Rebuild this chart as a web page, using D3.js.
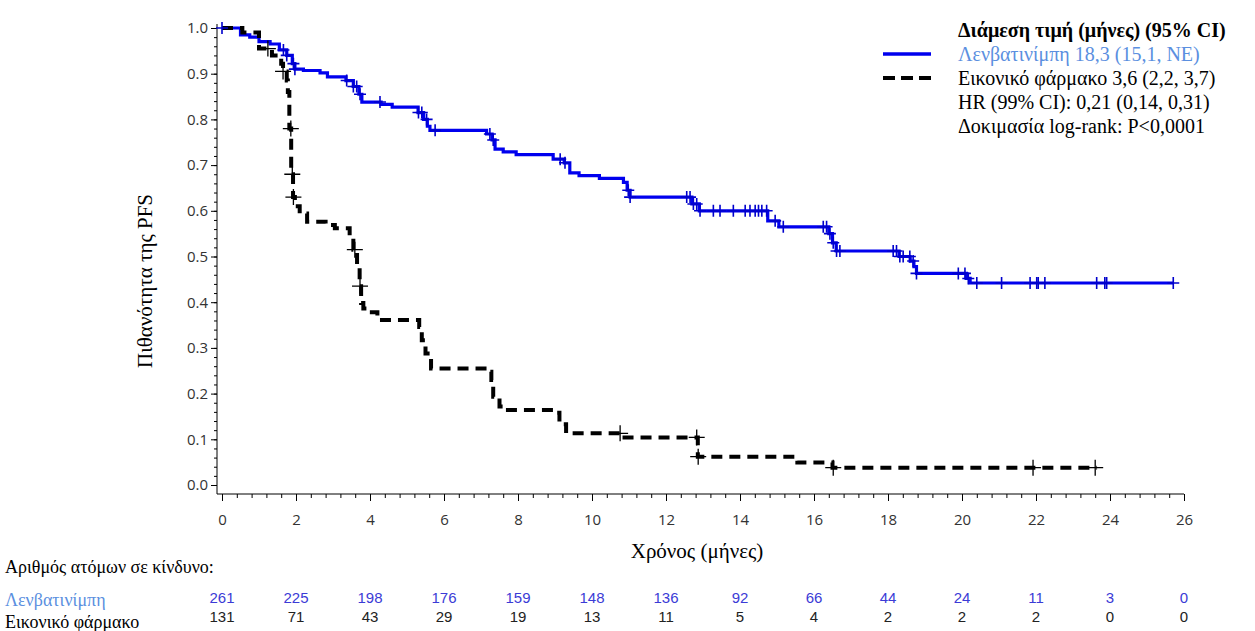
<!DOCTYPE html>
<html>
<head>
<meta charset="utf-8">
<script src="https://cdn.jsdelivr.net/npm/d3@7"></script>
<style>
body { margin: 0; background: #fff; }
svg { display: block; }
</style>
</head>
<body>
<script>
// survival steps: [month, probability after the step]
var lenvSteps = [[0,1.0],[0.5,0.985],[0.75,0.98],[1.0,0.97],[1.3,0.965],[1.55,0.952],[1.75,0.94],
	[1.9,0.922],[1.97,0.91],[2.2,0.907],[2.65,0.902],[2.85,0.893],[3.35,0.885],[3.55,0.872],
	[3.7,0.855],[3.78,0.838],[4.3,0.833],[4.6,0.827],[5.3,0.815],[5.45,0.8],[5.55,0.785],
	[5.62,0.776],[7.15,0.768],[7.3,0.755],[7.38,0.735],[7.6,0.729],[7.95,0.723],[8.95,0.713],
	[9.25,0.705],[9.4,0.683],[9.65,0.677],[10.2,0.671],[10.85,0.662],[10.95,0.645],[11.03,0.63],
	[12.7,0.615],[12.9,0.6],[14.75,0.578],[15.05,0.565],[16.4,0.55],[16.5,0.53],[16.6,0.512],
	[18.3,0.5],[18.6,0.49],[18.7,0.478],[18.77,0.463],[20.12,0.452],[20.22,0.442]];
var lenvEnd = 25.71;
var lenvCensor = [0,1.66,1.75,1.93,1.97,3.37,3.55,3.64,3.73,4.27,5.31,5.4,5.53,5.76,7.24,7.33,
	9.14,9.27,10.98,11.03,12.56,12.65,12.74,12.83,12.92,13.28,13.46,13.82,14.14,14.27,14.41,14.5,
	14.59,14.72,14.95,15.17,16.25,16.34,16.43,16.52,16.61,16.7,18.14,18.23,18.32,18.41,18.59,18.68,
	18.77,19.9,20.08,20.17,20.4,21.07,21.84,22.02,22.06,22.24,23.64,23.86,23.91,25.71];

var placSteps = [[0,1.0],[0.55,0.99],[1.0,0.955],[1.35,0.94],[1.6,0.922],[1.65,0.905],[1.75,0.885],
	[1.78,0.86],[1.82,0.78],[1.87,0.68],[1.92,0.63],[1.97,0.61],[2.1,0.594],[2.3,0.576],[2.8,0.569],
	[3.05,0.562],[3.45,0.545],[3.55,0.515],[3.65,0.48],[3.72,0.435],[3.76,0.398],[3.82,0.386],
	[4.05,0.378],[4.2,0.361],[5.33,0.346],[5.4,0.317],[5.5,0.288],[5.65,0.255],[7.15,0.248],
	[7.28,0.23],[7.33,0.193],[7.5,0.172],[7.65,0.164],[9.0,0.158],[9.12,0.133],[9.3,0.113],
	[10.8,0.104],[12.86,0.062],[15.55,0.049],[16.5,0.038]];
var placEnd = 23.65;
var placCensor = [1.24,1.65,1.86,1.9,1.93,3.59,3.73,10.76,12.83,12.87,16.52,21.92,23.6];

var riskMonths = [0,2,4,6,8,10,12,14,16,18,20,22,24,26];
var lenvRisk = [261,225,198,176,159,148,136,92,66,44,24,11,3,0];
var placRisk = [131,71,43,29,19,13,11,5,4,2,2,2,0,0];

var legendTitle = "Διάμεση τιμή (μήνες) (95% CI)";
var legendRows = ["Λενβατινίμπη 18,3 (15,1, NE)", "Εικονικό φάρμακο 3,6 (2,2, 3,7)",
	"HR (99% CI): 0,21 (0,14, 0,31)", "Δοκιμασία log-rank: P<0,0001"];

function main(){

	var w = 1255;
	var h = 631;
	var serif = "'Liberation Serif', 'Times New Roman', serif";
	var sans = "'Open Sans', 'Liberation Sans', sans-serif";

	var svg = d3.select("body")
				.append("svg")
				.attr("width", w)
				.attr("height", h);

	var x = d3.scaleLinear().domain([0, 26]).range([222, 1184]);
	var y = d3.scaleLinear().domain([0, 1]).range([485, 28]);

	// axes
	var yMinor = d3.range(0, 1.001, 0.02);
	svg.append("g")
		.attr("transform", "translate(217,0)")
		.call(d3.axisLeft(y).tickValues(yMinor).tickSize(3).tickFormat(""))
		.call(function(g){ g.select(".domain").remove(); });
	svg.append("g")
		.attr("class", "yaxis")
		.attr("transform", "translate(217,0)")
		.call(d3.axisLeft(y).tickValues(d3.range(0, 11).map(function(d){ return d / 10; }))
			.tickSize(6).tickPadding(3).tickFormat(d3.format(".1f")))
		.call(function(g){ g.select(".domain").remove(); });

	var xMinor = d3.range(0, 26.01, 0.4);
	svg.append("g")
		.attr("transform", "translate(0,494)")
		.call(d3.axisBottom(x).tickValues(xMinor).tickSize(4).tickFormat(""))
		.call(function(g){ g.select(".domain").remove(); });
	svg.append("g")
		.attr("class", "xaxis")
		.attr("transform", "translate(0,494)")
		.call(d3.axisBottom(x).tickValues(riskMonths).tickSize(7).tickPadding(13))
		.call(function(g){ g.select(".domain").remove(); });

	svg.selectAll(".tick line").attr("stroke", "#000").attr("stroke-width", 1);
	svg.selectAll(".yaxis text, .xaxis text")
		.attr("font-family", sans)
		.attr("font-size", 15)
		.attr("fill", "#333");

	svg.append("line").attr("x1", 217).attr("x2", 217).attr("y1", 24).attr("y2", 494)
		.attr("stroke", "#000");
	svg.append("line").attr("x1", 217).attr("x2", 1184).attr("y1", 494).attr("y2", 494)
		.attr("stroke", "#000");

	// curves
	var line = d3.line()
				.x(function(d){ return x(d[0]); })
				.y(function(d){ return y(d[1]); })
				.curve(d3.curveStepAfter);

	function survAt(steps, t){
		var i = d3.bisector(function(d){ return d[0]; }).right(steps, t) - 1;
		return steps[Math.max(i, 0)][1];
	}

	svg.append("path")
		.datum(lenvSteps.concat([[lenvEnd, lenvSteps[lenvSteps.length - 1][1]]]))
		.attr("d", line)
		.attr("fill", "none")
		.attr("stroke", "#0000ee")
		.attr("stroke-width", 3.2);

	svg.append("path")
		.datum(placSteps.concat([[placEnd, placSteps[placSteps.length - 1][1]]]))
		.attr("d", line)
		.attr("fill", "none")
		.attr("stroke", "#000")
		.attr("stroke-width", 4)
		.attr("stroke-dasharray", "11,7");

	svg.selectAll(".lcens")
		.data(lenvCensor)
		.enter()
		.append("path")
		.attr("class", "lcens")
		.attr("d", function(t){
			var cx = x(t), cy = y(survAt(lenvSteps, t));
			return "M" + (cx - 6) + "," + cy + "h12M" + cx + "," + (cy - 6) + "v12";
		})
		.attr("stroke", "#0000cc")
		.attr("stroke-width", 1.6);

	svg.selectAll(".pcens")
		.data(placCensor)
		.enter()
		.append("path")
		.attr("class", "pcens")
		.attr("d", function(t){
			var cx = x(t), cy = y(survAt(placSteps, t));
			return "M" + (cx - 8) + "," + cy + "h16M" + cx + "," + (cy - 8) + "v16";
		})
		.attr("stroke", "#000")
		.attr("stroke-width", 1.3);

	// axis titles
	svg.append("text")
		.attr("transform", "translate(152,281) rotate(-90)")
		.attr("text-anchor", "middle")
		.attr("font-family", serif)
		.attr("font-size", 21)
		.text("Πιθανότητα της PFS");

	svg.append("text")
		.attr("x", 697)
		.attr("y", 558)
		.attr("text-anchor", "middle")
		.attr("font-family", serif)
		.attr("font-size", 21)
		.text("Χρόνος (μήνες)");

	// legend
	var lx = 958;
	svg.append("text")
		.attr("x", lx).attr("y", 37)
		.attr("font-family", serif).attr("font-size", 20).attr("font-weight", "bold")
		.text(legendTitle);
	svg.selectAll(".legrow")
		.data(legendRows)
		.enter()
		.append("text")
		.attr("class", "legrow")
		.attr("x", lx)
		.attr("y", function(d, i){ return 61 + i * 24; })
		.attr("font-family", serif)
		.attr("font-size", 20)
		.attr("fill", function(d, i){ return i === 0 ? "#5b8fe0" : "#000"; })
		.text(function(d){ return d; });
	svg.append("line").attr("x1", 883).attr("x2", 931).attr("y1", 54).attr("y2", 54)
		.attr("stroke", "#0000ee").attr("stroke-width", 3.5);
	svg.append("line").attr("x1", 883).attr("x2", 931).attr("y1", 78).attr("y2", 78)
		.attr("stroke", "#000").attr("stroke-width", 4).attr("stroke-dasharray", "12,6");

	// number at risk
	svg.append("text")
		.attr("x", 5).attr("y", 573)
		.attr("font-family", serif).attr("font-size", 18)
		.text("Αριθμός ατόμων σε κίνδυνο:");
	svg.append("text")
		.attr("x", 5).attr("y", 606)
		.attr("font-family", serif).attr("font-size", 18).attr("fill", "#5b8fe0")
		.text("Λενβατινίμπη");
	svg.append("text")
		.attr("x", 5).attr("y", 628)
		.attr("font-family", serif).attr("font-size", 18)
		.text("Εικονικό φάρμακο");

	svg.selectAll(".lrisk")
		.data(lenvRisk)
		.enter()
		.append("text")
		.attr("class", "lrisk")
		.attr("x", function(d, i){ return x(riskMonths[i]); })
		.attr("y", 603)
		.attr("text-anchor", "middle")
		.attr("font-family", "'Liberation Sans', Arial, sans-serif")
		.attr("font-size", 15)
		.attr("fill", "#3b3bd6")
		.text(function(d){ return d; });

	svg.selectAll(".prisk")
		.data(placRisk)
		.enter()
		.append("text")
		.attr("class", "prisk")
		.attr("x", function(d, i){ return x(riskMonths[i]); })
		.attr("y", 622)
		.attr("text-anchor", "middle")
		.attr("font-family", "'Liberation Sans', Arial, sans-serif")
		.attr("font-size", 15)
		.attr("fill", "#222")
		.text(function(d){ return d; });
};

main();
</script>
</body>
</html>
